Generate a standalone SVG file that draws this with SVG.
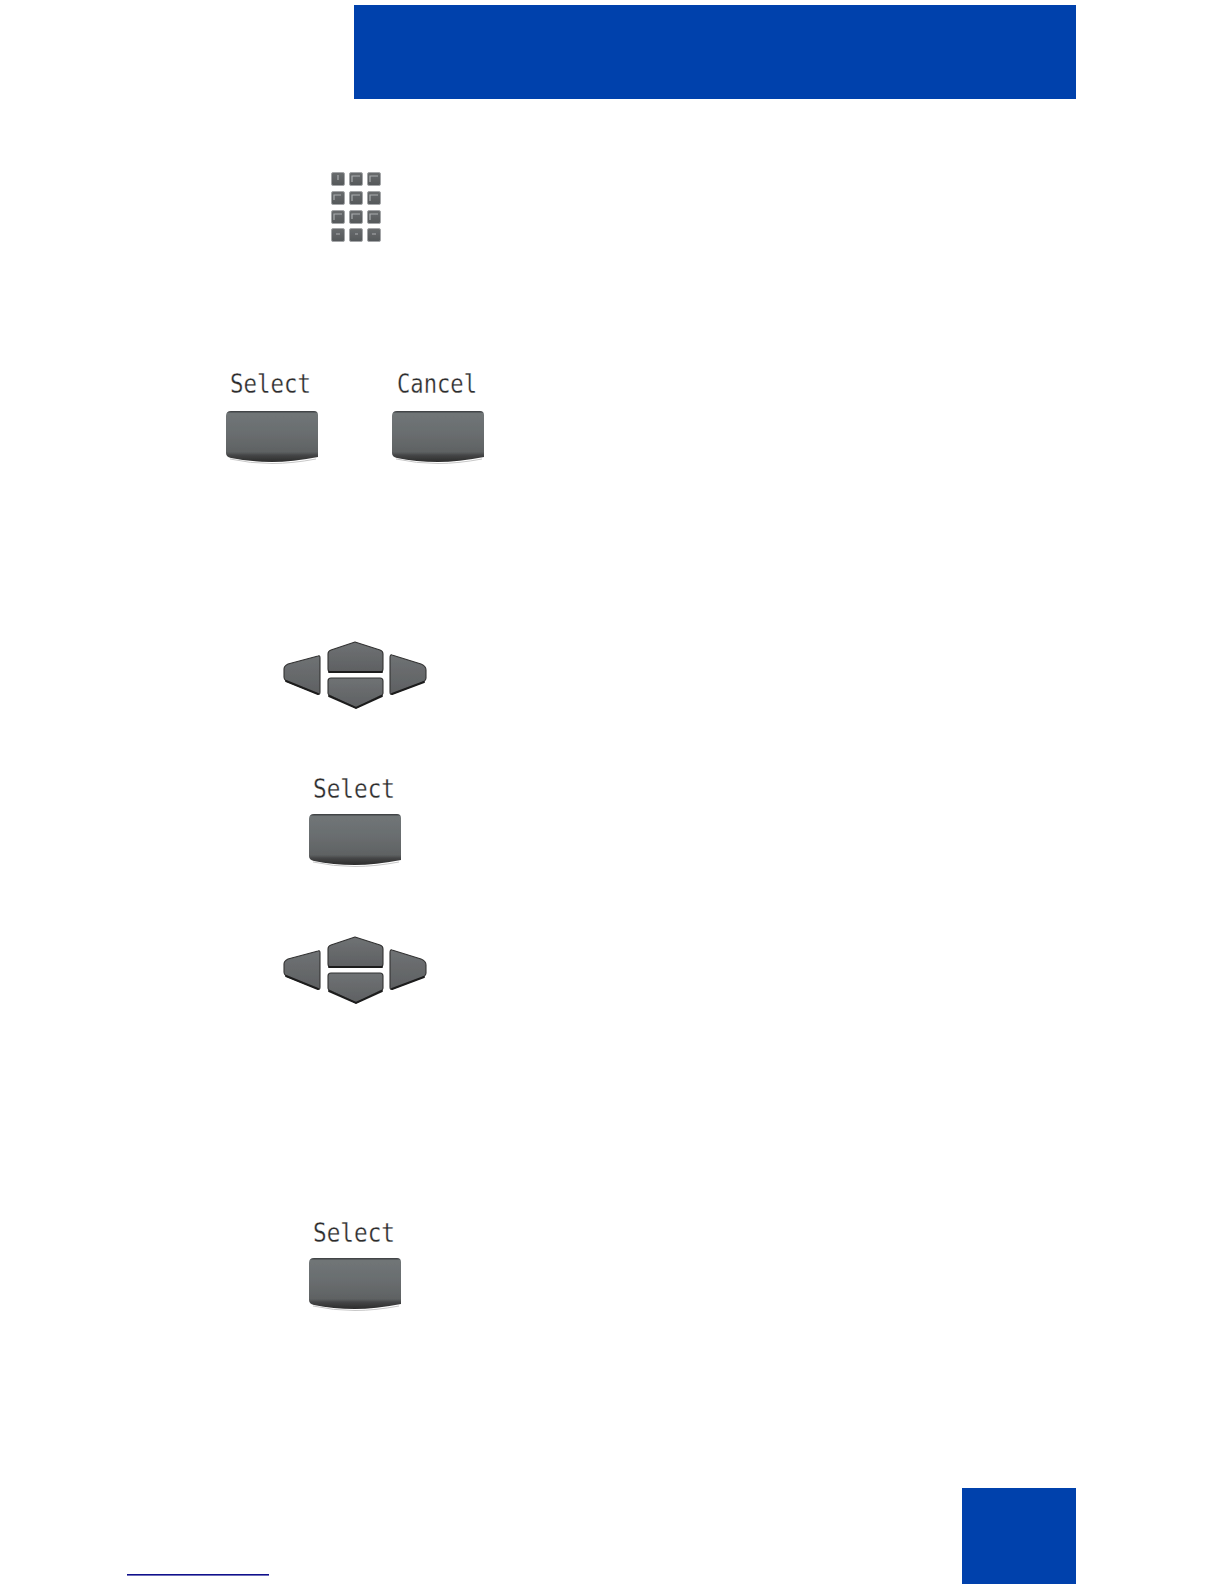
<svg xmlns="http://www.w3.org/2000/svg" width="1224" height="1584" viewBox="0 0 1224 1584">
<style>
.blue{fill:#0041ac}
.lcd{font-family:"DejaVu Sans Mono","Liberation Mono",monospace;font-size:27px;fill:#2c2c2c;stroke:#fff;stroke-width:.3px}
.key{fill:url(#k);stroke:#a4a6a8;stroke-width:1}
.mark{fill:none;stroke:#a9acae;stroke-width:1.2}
.nav{stroke:#333;stroke-width:1.1;stroke-linejoin:round;fill:url(#n)}
.navedge{fill:none;stroke:#1f1f1f;stroke-width:2;stroke-linecap:round}
</style>
<defs>
<linearGradient id="b" x1="0" y1="0" x2="0" y2="1">
<stop offset="0" stop-color="#38393b"/><stop offset=".05" stop-color="#707577"/><stop offset=".45" stop-color="#696d6f"/><stop offset=".8" stop-color="#5f6263"/><stop offset=".87" stop-color="#444546"/><stop offset="1" stop-color="#2c2c2c"/>
</linearGradient>
<linearGradient id="n" x1="0" y1="0" x2="0" y2="1">
<stop offset="0" stop-color="#6f7274"/><stop offset="1" stop-color="#5e6062"/>
</linearGradient>
<linearGradient id="k" x1="0" y1="0" x2="0" y2="1">
<stop offset="0" stop-color="#696c6e"/><stop offset="1" stop-color="#55585a"/>
</linearGradient>
<filter id="s" x="-10%" y="-10%" width="120%" height="120%"><feGaussianBlur stdDeviation=".6"/></filter>
<g id="softkey">
<path d="M5 0H88Q92 0 92 4V46Q66 51 46 51Q24 51 5 47Q0 46 0 42V5Q0 0 5 0Z" fill="url(#b)"/>
<path d="M4 48Q24 52.500 46 52.500Q66 52.500 90 48" fill="none" stroke="#c8c8c8" stroke-width="1"/>
</g>
<g id="navkeys">
<path class="nav" d="M331 650L355 642L380 650Q383 651 383 654V669Q383 672 380 672H331Q328 672 328 669V654Q328 651 331 650Z"/>
<path class="navedge" d="M329 672H382"/>
<path class="nav" d="M331 678H380Q383 678 383 681V693Q383 695 380 696L356 708L331 696Q328 695 328 693V681Q328 678 331 678Z"/>
<path class="navedge" d="M329 696L356 708L382 696"/>
<path class="nav" d="M318 656Q320 655 320 658V692Q320 695 318 694L288 682Q284 680 284 677V669Q284 666 288 664Z"/>
<path class="navedge" d="M286 681L318 694"/>
<path class="nav" d="M392 655L421 664Q426 666 426 670V678Q426 681 421 683L392 694Q390 695 390 692V658Q390 654 392 655Z"/>
<path class="navedge" d="M392 694L424 682"/>
</g>
</defs>
<rect width="1224" height="1584" fill="#fff"/>
<g id="header"><rect class="blue" x="354" y="5" width="722" height="94"/></g>
<g id="page-tab"><rect class="blue" x="962" y="1488" width="114" height="96"/></g>
<g id="footer-rule"><rect x="127" y="1574" width="142" height="1.6" fill="#10108c"/></g>
<g id="keypad" filter="url(#s)">
<rect class="key" x="331.500" y="172.500" width="13" height="13" rx="1.500"/><rect class="key" x="349.500" y="172.500" width="13" height="13" rx="1.500"/><rect class="key" x="367.500" y="172.500" width="13" height="13" rx="1.500"/>
<rect class="key" x="331.500" y="191.500" width="13" height="13" rx="1.500"/><rect class="key" x="349.500" y="191.500" width="13" height="13" rx="1.500"/><rect class="key" x="367.500" y="191.500" width="13" height="13" rx="1.500"/>
<rect class="key" x="331.500" y="210.500" width="13" height="13" rx="1.500"/><rect class="key" x="349.500" y="210.500" width="13" height="13" rx="1.500"/><rect class="key" x="367.500" y="210.500" width="13" height="13" rx="1.500"/>
<rect class="key" x="331.500" y="228.500" width="13" height="13" rx="1.500"/><rect class="key" x="349.500" y="228.500" width="13" height="13" rx="1.500"/><rect class="key" x="367.500" y="228.500" width="13" height="13" rx="1.500"/>
<path class="mark" d="M338 175V180M352 182V176H360M370 182V176H378M334 200V195H341M352 201V195H360M370 201V195H378M334 220V214H342M352 219V214H360M370 220V214H378M336 234H340M355 234H358M372 234H376"/>
</g>
<g id="select-1">
<text class="lcd" x="230" y="393" textLength="81" lengthAdjust="spacingAndGlyphs">Select</text>
<use href="#softkey" x="226" y="411" filter="url(#s)"/>
</g>
<g id="cancel">
<text class="lcd" x="397" y="393" textLength="80" lengthAdjust="spacingAndGlyphs">Cancel</text>
<use href="#softkey" x="392" y="411" filter="url(#s)"/>
</g>
<g id="nav-1"><use href="#navkeys" filter="url(#s)"/></g>
<g id="select-2">
<text class="lcd" x="313" y="798" textLength="82" lengthAdjust="spacingAndGlyphs">Select</text>
<use href="#softkey" x="309" y="814" filter="url(#s)"/>
</g>
<g id="nav-2"><use href="#navkeys" y="295" filter="url(#s)"/></g>
<g id="select-3">
<text class="lcd" x="313" y="1242" textLength="82" lengthAdjust="spacingAndGlyphs">Select</text>
<use href="#softkey" x="309" y="1258" filter="url(#s)"/>
</g>
</svg>
